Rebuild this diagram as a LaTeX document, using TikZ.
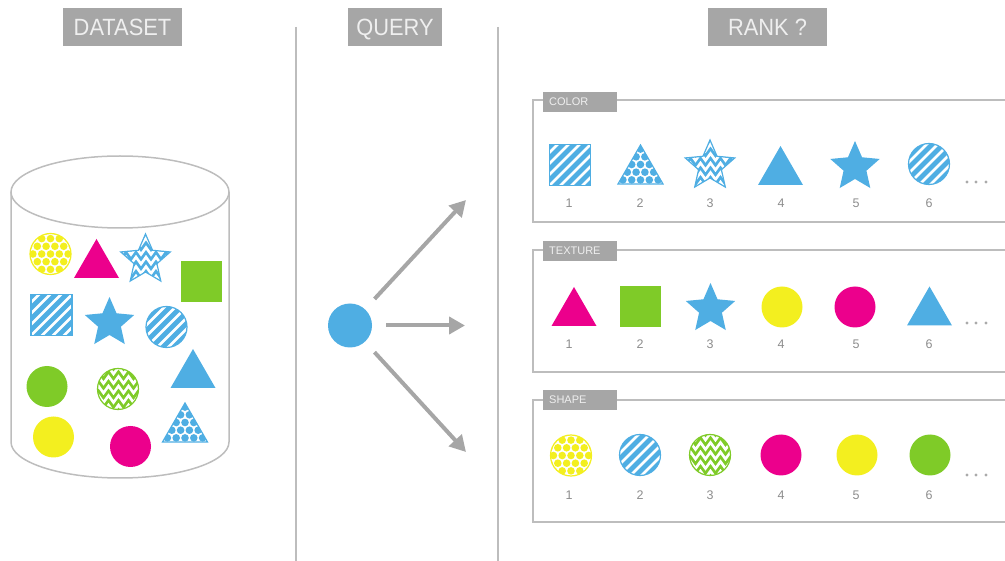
\documentclass[tikz,border=0pt]{standalone}
\usepackage{fontspec}
\setmainfont{Liberation Sans}
\newfontfamily\headfont[FakeStretch=0.93]{Liberation Sans}
\usetikzlibrary{arrows.meta,decorations.pathmorphing}

\definecolor{cblue}{HTML}{4FAEE3}
\definecolor{cpink}{HTML}{EC008C}
\definecolor{cgreen}{HTML}{7FCB28}
\definecolor{cyellow}{HTML}{F3EF1F}
\definecolor{boxgray}{HTML}{A6A6A6}
\definecolor{tagtext}{HTML}{EFEFEF}
\definecolor{linegray}{HTML}{BDBDBD}
\definecolor{numgray}{HTML}{8C8C8C}
\definecolor{dotgray}{HTML}{AAAAAA}

% outlines, centred on the origin
\newcommand{\circpath}{(0,0) circle (20.5)}
\newcommand{\tripath}{(-22.5,19.5) -- (0,-19.5) -- (22.5,19.5) -- cycle}
\newcommand{\sqpath}{(-20.5,-20.5) rectangle (20.5,20.5)}
\newcommand{\starpath}{(-90:26) -- (-54:12) -- (-18:26) -- (18:12) -- (54:26)
  -- (90:12) -- (126:26) -- (162:12) -- (198:26) -- (234:12) -- cycle}

% fillings
\newcommand{\stripepat}[1]{\fill[#1] (-30,-30) rectangle (30,30);
  \foreach \k in {-55,-44,...,55} \draw[white,line width=2.8pt] (\k-30,30) -- (\k+30,-30);}
\newcommand{\dotpat}[1]{\fill[white] (-30,-30) rectangle (30,30);
  \foreach \r in {-4,...,4} \foreach \c in {-4,...,4}
    \fill[#1] ({\c*8.8+mod(\r,2)*4.4},\r*7.7) circle (3.8);}
\newcommand{\zigpat}[1]{\fill[#1] (-30,-30) rectangle (30,30);
  \foreach \r in {-28,-18.5,...,30} \draw[white,line width=2.6pt,decorate,
    decoration={zigzag,segment length=10pt,amplitude=3.5pt}] (-32,\r) -- (32,\r);}

\begin{document}
\begin{tikzpicture}[x=1pt,y=-1pt,
  head box/.style={fill=boxgray,text=tagtext,minimum width=119pt,minimum height=38pt,
    inner sep=0pt,text height=17pt,text depth=0pt,font=\headfont\fontsize{23.5}{28}\selectfont},
  tag box/.style={fill=boxgray,text=tagtext,anchor=west,minimum height=20pt,
    text width=62pt,inner xsep=6pt,inner ysep=0pt,align=left,font=\fontsize{11}{13}\selectfont},
  frame line/.style={draw=linegray,line width=1.5pt},
  rank num/.style={text=numgray,font=\fontsize{12.5}{15}\selectfont,inner sep=0pt},
  query arrow/.style={draw=boxgray,line width=4pt,-{Triangle[length=16pt,width=17pt]},
    shorten <=14pt},
  pics/plain/.style 2 args={code={\fill[#2] #1;}},
  pics/patt/.style n args={3}{code={
    \begin{scope}\clip #1; #2{#3}\end{scope}
    \draw[#3,line width=1.2pt] #1;}}]

  \useasboundingbox (0,0) rectangle (1005,561);

  % column heads and dividers
  \node[head box] (dataset) at (122.5,27) {DATASET};
  \node[head box,minimum width=94pt] (query head) at (395,27) {QUERY};
  \node[head box] (rank) at (767.5,27) {RANK ?};
  \draw[frame line] (296,27) -- (296,561);
  \draw[frame line] (498,27) -- (498,561);

  % dataset cylinder
  \draw[frame line] (120,192) ellipse (109 and 36);
  \draw[frame line] (11,192) -- (11,442) arc[start angle=180,end angle=0,
    x radius=109,y radius=36] -- (229,192);

  \pic at (50.5,254) {patt={\circpath}{\dotpat}{cyellow}};
  \pic at (96.5,258.5) {plain={\tripath}{cpink}};
  \pic at (145.5,260) {patt={\starpath}{\zigpat}{cblue}};
  \pic at (201,281.5) {plain={\sqpath}{cgreen}};
  \pic at (51.5,315) {patt={\sqpath}{\stripepat}{cblue}};
  \pic at (109.5,323) {plain={\starpath}{cblue}};
  \pic at (166.5,327) {patt={\circpath}{\stripepat}{cblue}};
  \pic at (193,368.5) {plain={\tripath}{cblue}};
  \pic at (47,386.5) {plain={\circpath}{cgreen}};
  \pic at (118,389) {patt={\circpath}{\zigpat}{cgreen}};
  \pic at (185,422.5) {patt={\tripath}{\dotpat}{cblue}};
  \pic at (53.5,437) {plain={\circpath}{cyellow}};
  \pic at (130.5,446.5) {plain={\circpath}{cpink}};

  % query and its three rankings
  \node[circle,fill=cblue,minimum size=44pt,inner sep=0pt] (query) at (350,325.5) {};
  \coordinate (colorin) at (466,200);
  \coordinate (texturein) at (465,325.5);
  \coordinate (shapein) at (466,452);
  \draw[query arrow] (query) -- (colorin);
  \draw[query arrow] (query) -- (texturein);
  \draw[query arrow] (query) -- (shapein);

  % ranking panels
  \draw[frame line] (1010,100) -- (533,100) -- (533,222) -- (1010,222);
  \draw[frame line] (1010,250) -- (533,250) -- (533,372) -- (1010,372);
  \draw[frame line] (1010,400) -- (533,400) -- (533,522) -- (1010,522);
  \node[tag box] (color) at (543,102) {COLOR};
  \node[tag box] (texture) at (543,251) {TEXTURE};
  \node[tag box] (shape) at (543,400) {SHAPE};

  \pic at (570,165) {patt={\sqpath}{\stripepat}{cblue}};
  \pic at (640.5,164.5) {patt={\tripath}{\dotpat}{cblue}};
  \pic at (710,166) {patt={\starpath}{\zigpat}{cblue}};
  \pic at (780.5,165.5) {plain={\tripath}{cblue}};
  \pic at (855,167) {plain={\starpath}{cblue}};
  \pic at (929,164) {patt={\circpath}{\stripepat}{cblue}};

  \pic at (574,306.5) {plain={\tripath}{cpink}};
  \pic at (640.5,306.5) {plain={\sqpath}{cgreen}};
  \pic at (710.5,309) {plain={\starpath}{cblue}};
  \pic at (782,307) {plain={\circpath}{cyellow}};
  \pic at (855,307) {plain={\circpath}{cpink}};
  \pic at (929.5,306) {plain={\tripath}{cblue}};

  \pic at (571,455.5) {patt={\circpath}{\dotpat}{cyellow}};
  \pic at (640,455) {patt={\circpath}{\stripepat}{cblue}};
  \pic at (710,455) {patt={\circpath}{\zigpat}{cgreen}};
  \pic at (781,455) {plain={\circpath}{cpink}};
  \pic at (857,455) {plain={\circpath}{cyellow}};
  \pic at (930,455) {plain={\circpath}{cgreen}};

  \foreach \n/\x in {1/569,2/640,3/710,4/781,5/856,6/929} {
    \node[rank num] (cnum\n) at (\x,203) {\n};
    \node[rank num] (tnum\n) at (\x,344) {\n};
    \node[rank num] (snum\n) at (\x,495) {\n};
  }
  \foreach \y in {182,323,475}
    \foreach \x in {967,976,986} \fill[dotgray] (\x,\y) circle (1.7);
\end{tikzpicture}
\end{document}
